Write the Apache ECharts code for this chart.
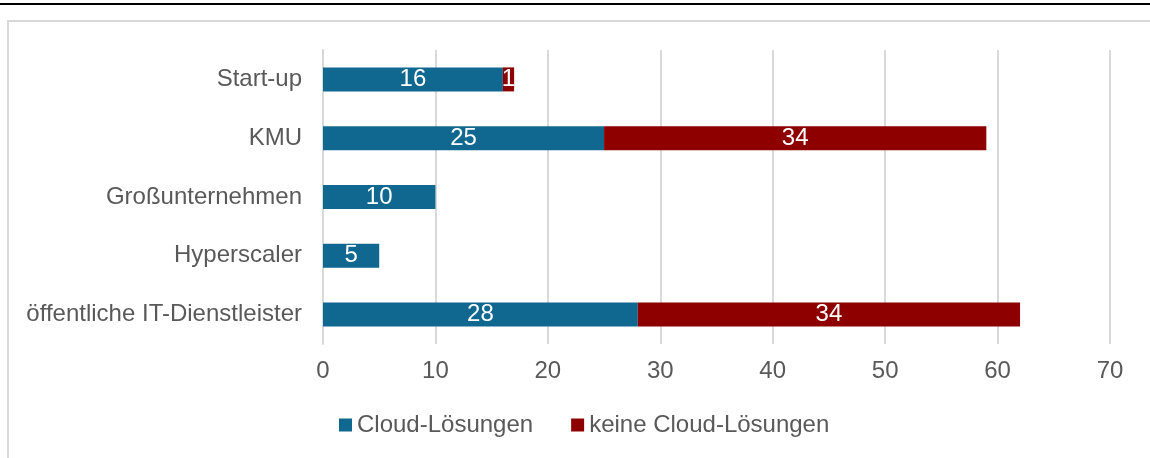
<!DOCTYPE html>
<html>
<head>
<meta charset="utf-8">
<script src="https://cdn.jsdelivr.net/npm/echarts@6/dist/echarts.min.js"></script>
<style>
  html, body { margin: 0; padding: 0; background: #fff; }
  #chart { width: 1150px; height: 458px; }
</style>
</head>
<body>
<div id="chart"></div>
<script>
  // Kategorien von oben nach unten
  var categories = ['Start-up', 'KMU', 'Großunternehmen', 'Hyperscaler', 'öffentliche IT-Dienstleister'];
  var cloudValues = [16, 25, 10, 5, 28];
  var keineValues = [1, 34, null, null, 34];
  var xTicks = [0, 10, 20, 30, 40, 50, 60, 70];

  var textGray = '#595959';
  var font = '"Liberation Sans", Arial, sans-serif';
  var fs = 24;

  var chart = echarts.init(document.getElementById('chart'), null, {renderer: 'canvas'});
  chart.setOption({
    animation: false,
    textStyle: { fontFamily: font },
    graphic: [
      // schwarze Linie oben
      { type: 'rect', shape: { x: 0, y: 3, width: 1150, height: 2 }, style: { fill: '#000' } },
      // grauer Rahmen
      { type: 'rect', shape: { x: 8, y: 21, width: 1160, height: 460 },
        style: { fill: 'none', stroke: '#d9d9d9', lineWidth: 2 } }
    ],
    grid: { left: 323, right: 40, top: 50, bottom: 114 },
    legend: {
      bottom: 16,
      left: 334,
      itemWidth: 13,
      itemHeight: 13,
      itemGap: 38,
      icon: 'rect',
      textStyle: { color: textGray, fontSize: fs, fontFamily: font },
      data: ['Cloud-Lösungen', 'keine Cloud-Lösungen']
    },
    xAxis: {
      type: 'value',
      min: xTicks[0],
      max: xTicks[xTicks.length - 1],
      interval: 10,
      axisLine: { show: false },
      axisTick: { show: false },
      axisLabel: { color: textGray, fontSize: fs, margin: 15, fontFamily: font },
      splitLine: { lineStyle: { color: '#d9d9d9', width: 2 } }
    },
    yAxis: {
      type: 'category',
      inverse: true,
      data: categories,
      axisLine: { lineStyle: { color: '#d9d9d9', width: 2 } },
      axisTick: { show: false },
      axisLabel: { color: textGray, fontSize: fs, margin: 21, fontFamily: font }
    },
    series: [
      {
        name: 'Cloud-Lösungen',
        type: 'bar',
        stack: 'total',
        barWidth: 24,
        itemStyle: { color: '#10678f' },
        label: { show: true, position: 'inside', color: '#fff', fontSize: fs, fontFamily: font },
        data: cloudValues
      },
      {
        name: 'keine Cloud-Lösungen',
        type: 'bar',
        stack: 'total',
        barWidth: 24,
        itemStyle: { color: '#8e0000' },
        label: { show: true, position: 'inside', color: '#fff', fontSize: fs, fontFamily: font },
        data: keineValues
      }
    ]
  });
  window.addEventListener('resize', chart.resize);
</script>
</body>
</html>
